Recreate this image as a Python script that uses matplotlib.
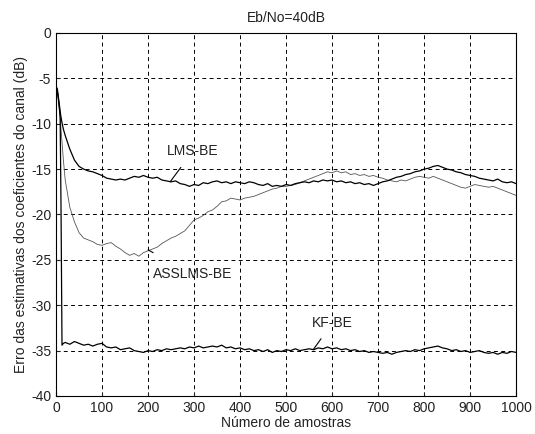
import numpy as np
import matplotlib
matplotlib.use('Agg')
import matplotlib.pyplot as plt

plt.rcParams['font.family'] = ['Liberation Sans', 'DejaVu Sans']
plt.rcParams['axes.unicode_minus'] = False

# sample index grid for the tail of every curve
n_tail = np.arange(20, 1001, 10)

# LMS-BE
lms_x0 = [1, 3, 5, 8, 10, 13, 16]
lms_y0 = [-6.0, -6.2, -7.0, -8.2, -9.0, -9.9, -10.6]
lms_tail = [-11.3, -12.8, -14.0, -14.7, -15.0, -15.2, -15.3, -15.5, -15.7,
            -16.0, -16.1, -16.2, -16.1, -16.2, -16.0, -15.8, -15.9, -15.7,
            -15.9, -16.0, -15.9, -16.2, -16.3, -16.4, -16.3, -16.6, -16.7,
            -16.9, -16.7, -16.8, -16.5, -16.6, -16.4, -16.3, -16.5, -16.4,
            -16.6, -16.4, -16.5, -16.6, -16.4, -16.5, -16.7, -16.8, -16.6,
            -16.9, -16.8, -16.9, -16.7, -16.8, -16.6, -16.5, -16.4, -16.5,
            -16.3, -16.4, -16.2, -16.3, -16.2, -16.4, -16.3, -16.5, -16.4,
            -16.6, -16.5, -16.7, -16.6, -16.8, -16.6, -16.4, -16.3, -16.1,
            -15.9, -15.8, -15.6, -15.5, -15.3, -15.2, -15.0, -14.9, -14.7,
            -14.6, -14.8, -15.0, -15.1, -15.3, -15.4, -15.6, -15.7, -15.8,
            -16.0, -16.1, -16.2, -16.3, -16.1, -16.4, -16.5, -16.4, -16.6]

# ASSLMS-BE
ass_x0 = [1, 3, 5, 8, 10, 13, 16]
ass_y0 = [-6.0, -6.4, -7.0, -8.8, -10.0, -12.0, -14.0]
ass_tail = [-16.2, -19.2, -20.8, -22.0, -22.6, -22.8, -23.0, -23.3, -23.4,
            -23.2, -23.1, -23.5, -23.8, -24.2, -24.5, -24.3, -24.6, -24.2,
            -24.0, -23.8, -23.6, -23.2, -22.9, -22.6, -22.4, -22.1, -21.8,
            -21.2, -20.6, -20.4, -20.1, -19.7, -19.5, -19.1, -18.6, -18.5,
            -18.2, -18.3, -18.4, -18.2, -18.1, -18.0, -17.8, -17.6, -17.4,
            -17.2, -17.1, -16.9, -16.9, -16.8, -16.7, -16.5, -16.3, -16.1,
            -15.9, -15.7, -15.5, -15.3, -15.4, -15.2, -15.4, -15.3, -15.6,
            -15.5, -15.7, -15.6, -15.8, -15.7, -15.9, -16.0, -16.2, -16.3,
            -16.4, -16.2, -16.3, -16.1, -15.9, -15.8, -15.9, -16.0, -15.8,
            -16.0, -16.2, -16.4, -16.6, -16.8, -17.0, -17.1, -16.9, -16.7,
            -16.8, -16.9, -17.0, -16.9, -17.1, -17.3, -17.5, -17.7, -17.9]

# KF-BE
kf_x0 = [1, 3, 5, 7, 9, 11, 13, 16]
kf_y0 = [-6.0, -6.5, -7.3, -8.2, -9.2, -20.0, -34.4, -34.2]
kf_tail = [-34.1, -34.3, -34.0, -34.2, -34.4, -34.3, -34.5, -34.3, -34.2,
           -34.6, -34.7, -34.6, -34.9, -34.8, -34.7, -35.0, -35.1, -35.2,
           -35.0, -35.1, -34.9, -35.0, -34.8, -34.9, -34.8, -34.7, -34.8,
           -34.6, -34.7, -34.5, -34.7, -34.6, -34.5, -34.6, -34.4, -34.7,
           -34.6, -34.8, -34.7, -34.9, -34.8, -35.0, -34.9, -35.1, -34.9,
           -35.2, -35.0, -35.1, -34.9, -35.0, -34.8, -35.0, -34.9, -34.8,
           -34.9, -34.7, -34.8, -34.6, -34.8, -34.7, -34.9, -34.8, -35.0,
           -34.9, -35.1, -35.0, -35.2, -35.1, -35.2, -35.3, -35.2, -35.4,
           -35.2, -35.1, -35.0, -35.1, -34.9, -35.0, -34.8, -34.7, -34.6,
           -34.5, -34.7, -34.8, -35.0, -34.9, -35.1, -35.0, -35.2, -35.1,
           -35.0, -35.2, -35.3, -35.2, -35.4, -35.2, -35.3, -35.1, -35.2]

fig = plt.figure(figsize=(5.35, 4.34), dpi=100)
ax = fig.add_axes([0.1047, 0.0876, 0.86, 0.8364])

ax.plot(np.concatenate([ass_x0, n_tail]), np.concatenate([ass_y0, ass_tail]),
        color='#555555', lw=0.6)
ax.plot(np.concatenate([lms_x0, n_tail]), np.concatenate([lms_y0, lms_tail]),
        color='black', lw=0.9)
ax.plot(np.concatenate([kf_x0, n_tail]), np.concatenate([kf_y0, kf_tail]),
        color='black', lw=0.9)

ax.set_xlim(0, 1000)
ax.set_ylim(-40, 0)
ax.set_xticks(range(0, 1001, 100))
ax.set_yticks(range(-40, 1, 5))
ax.grid(True, color='black', linestyle=(0, (4, 3.5)), lw=0.7)
ax.tick_params(direction='in', length=3, labelsize=10, colors='#222222')
for s in ax.spines.values():
    s.set_linewidth(0.8)

ax.set_title('Eb/No=40dB', fontsize=10, color='#222222', pad=8)
ax.set_xlabel('Número de amostras', fontsize=10, color='#222222', labelpad=1)
ax.set_ylabel('Erro das estimativas dos coeficientes do canal (dB)',
              fontsize=10, color='#222222', labelpad=2)

ax.annotate('LMS-BE', xy=(248, -16.4), xytext=(298, -13.0),
            ha='center', va='center', fontsize=10, color='#222222',
            arrowprops=dict(arrowstyle='-', color='black', lw=0.8,
                            shrinkA=6, shrinkB=0))
ax.annotate('ASSLMS-BE', xy=(200, -23.9), xytext=(298, -26.6),
            ha='center', va='center', fontsize=10, color='#222222',
            arrowprops=dict(arrowstyle='-', color='black', lw=0.8,
                            shrinkA=18, shrinkB=0))
ax.annotate('KF-BE', xy=(559, -34.9), xytext=(600, -32.0),
            ha='center', va='center', fontsize=10, color='#222222',
            arrowprops=dict(arrowstyle='-', color='black', lw=0.8,
                            shrinkA=5, shrinkB=0))

fig.savefig('out.png', dpi=100)
